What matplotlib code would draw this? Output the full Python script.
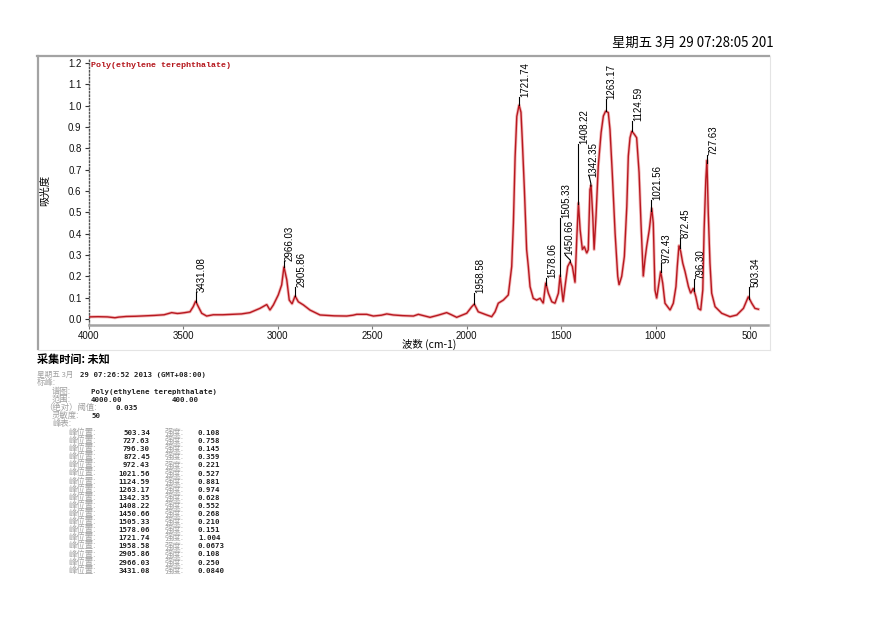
import matplotlib
matplotlib.use("Agg")
import matplotlib.pyplot as plt
import numpy as np
from matplotlib.lines import Line2D

# ---------------- data ----------------
wavenumber = [4000, 3950, 3900, 3860, 3840, 3800, 3750, 3700, 3650, 3600, 3560, 3530, 3516, 3490,
              3463, 3446, 3433, 3419, 3401, 3375, 3340, 3290, 3234, 3190, 3146, 3093, 3057, 3040,
              3022, 2996, 2978, 2966, 2951, 2938, 2923, 2907, 2890, 2863, 2828, 2775, 2700, 2634,
              2600, 2581, 2528, 2493, 2450, 2422, 2387, 2340, 2281, 2255, 2193, 2150, 2105, 2080,
              2052, 1999, 1972, 1959, 1938, 1893, 1867, 1849, 1832, 1805, 1779, 1761, 1752, 1743,
              1734, 1722, 1712, 1705, 1694, 1682, 1673, 1664, 1647, 1629, 1611, 1594, 1581, 1567,
              1549, 1532, 1514, 1505, 1496, 1489, 1479, 1465, 1452, 1440, 1426, 1417, 1408, 1399,
              1387, 1377, 1364, 1356, 1347, 1341, 1332, 1325, 1315, 1303, 1288, 1276, 1264, 1250,
              1241, 1229, 1214, 1200, 1193, 1179, 1165, 1152, 1144, 1135, 1126, 1112, 1100, 1087,
              1077, 1065, 1056, 1047, 1033, 1020, 1012, 1003, 994, 985, 973, 962, 950, 923, 906,
              892, 885, 876, 867, 856, 844, 826, 814, 800, 787, 774, 761, 750, 743, 734, 728, 721,
              712, 703, 685, 650, 606, 570, 535, 509, 491, 474, 456]
absorbance = [0.010, 0.011, 0.010, 0.006, 0.009, 0.012, 0.013, 0.015, 0.017, 0.020, 0.030, 0.026,
              0.027, 0.030, 0.034, 0.058, 0.084, 0.058, 0.027, 0.014, 0.020, 0.020, 0.022, 0.024,
              0.030, 0.050, 0.068, 0.042, 0.066, 0.113, 0.160, 0.245, 0.184, 0.089, 0.071, 0.108,
              0.081, 0.066, 0.042, 0.019, 0.015, 0.014, 0.018, 0.022, 0.022, 0.014, 0.018, 0.024,
              0.019, 0.016, 0.014, 0.022, 0.008, 0.018, 0.030, 0.020, 0.008, 0.027, 0.058, 0.070,
              0.034, 0.019, 0.011, 0.034, 0.074, 0.089, 0.113, 0.246, 0.450, 0.760, 0.950, 1.004,
              0.970, 0.840, 0.610, 0.325, 0.246, 0.152, 0.097, 0.089, 0.097, 0.074, 0.170, 0.121,
              0.081, 0.074, 0.121, 0.205, 0.136, 0.081, 0.152, 0.246, 0.268, 0.246, 0.171, 0.372,
              0.545, 0.419, 0.325, 0.340, 0.309, 0.325, 0.607, 0.628, 0.480, 0.325, 0.480, 0.717,
              0.874, 0.952, 0.975, 0.968, 0.889, 0.686, 0.403, 0.200, 0.160, 0.200, 0.293, 0.528,
              0.764, 0.850, 0.881, 0.866, 0.850, 0.686, 0.450, 0.200, 0.278, 0.340, 0.419, 0.520,
              0.450, 0.136, 0.097, 0.152, 0.223, 0.168, 0.074, 0.042, 0.074, 0.152, 0.246, 0.345,
              0.317, 0.262, 0.223, 0.152, 0.121, 0.144, 0.105, 0.050, 0.042, 0.136, 0.419, 0.654,
              0.745, 0.497, 0.262, 0.121, 0.058, 0.027, 0.011, 0.019, 0.050, 0.105, 0.074, 0.050,
              0.046]

peak_positions = [503.34, 727.63, 796.30, 872.45, 972.43, 1021.56, 1124.59, 1263.17, 1342.35,
                  1408.22, 1450.66, 1505.33, 1578.06, 1721.74, 1958.58, 2905.86, 2966.03, 3431.08]
peak_labels = ["503.34", "727.63", "796.30", "872.45", "972.43", "1021.56", "1124.59", "1263.17",
               "1342.35", "1408.22", "1450.66", "1505.33", "1578.06", "1721.74", "1958.58",
               "2905.86", "2966.03", "3431.08"]
peak_intensity = ["0.108", "0.758", "0.145", "0.359", "0.221", "0.527", "0.881", "0.974", "0.628",
                  "0.552", "0.268", "0.210", "0.151", "1.004", "0.0673", "0.108", "0.250", "0.0840"]
label_tops = [0.152, 0.77, 0.19, 0.38, 0.265, 0.56, 0.928, 1.03, 0.667, 0.82, 0.30, 0.475, 0.193,
              1.04, 0.121, 0.152, 0.27, 0.128]

y_ticks = [0.0, 0.1, 0.2, 0.3, 0.4, 0.5, 0.6, 0.7, 0.8, 0.9, 1.0, 1.1, 1.2]
x_ticks = [4000, 3500, 3000, 2500, 2000, 1500, 1000, 500]

# ---------------- figure ----------------
W, H = 894, 642
fig = plt.figure(figsize=(W / 100, H / 100), dpi=100)
fig.patch.set_facecolor("white")
CJK = ["Noto Sans CJK SC", "DejaVu Sans"]


def fx(px):
    return px / W


def fy(py):
    return 1 - py / H


def ftext(px, py, s, **kw):
    return fig.text(fx(px), fy(py), s, **kw)


# frame
fig.add_artist(Line2D([fx(37), fx(769)], [fy(56), fy(56)], color="#a3a3a3", lw=1.6))
fig.add_artist(Line2D([fx(37.5), fx(37.5)], [fy(55.5), fy(349)], color="#a3a3a3", lw=1.6))
fig.add_artist(Line2D([fx(770), fx(770)], [fy(56), fy(350)], color="#e4e4e4", lw=0.8))
fig.add_artist(Line2D([fx(38), fx(770)], [fy(349.5), fy(349.5)], color="#e4e4e4", lw=0.8))

ax = fig.add_axes([fx(88.5), fy(325), fx(768) - fx(88.5), fy(58) - fy(325)])
ax.set_facecolor("white")
ax.set_xlim(4000, 405)
ax.set_ylim(-0.028, 1.224)
for s in ("top", "right"):
    ax.spines[s].set_visible(False)
ax.spines["left"].set_linestyle((0, (1, 1.5)))
ax.spines["left"].set_color("#555555")
ax.spines["left"].set_linewidth(1.0)
ax.spines["bottom"].set_color("#a3a3a3")
ax.spines["bottom"].set_linewidth(1.8)

ax.set_yticks(y_ticks)
ax.set_yticklabels([f"{v:.1f}" for v in y_ticks])
ax.set_xticks(x_ticks)
ax.set_xticklabels([str(v) for v in x_ticks])
ax.tick_params(axis="y", direction="out", length=3, width=0.8, color="#333333", pad=2,
               labelsize=7, labelcolor="#111111")
ax.tick_params(axis="x", direction="out", length=3, width=0.8, color="#777777", pad=1,
               labelsize=7, labelcolor="#111111")
for lab in ax.get_xticklabels() + ax.get_yticklabels():
    lab.set_fontfamily("Liberation Sans")

ax.plot(wavenumber, absorbance, color="#f2b8b8", lw=2.2, solid_joinstyle="round", zorder=2)
ax.plot(wavenumber, absorbance, color="#b81820", lw=1.0, solid_joinstyle="miter", zorder=3)

# peak labels with leader lines
px_per_wn = (768 - 88.5) / (4000 - 405)
shift_px = {"1450.66": -5.0, "1342.35": -1.5}
text_dx = {"1450.66": 4.0, "1342.35": 3.5}
for pos, lab, top in zip(peak_positions, peak_labels, label_tops):
    ybot = float(np.interp(pos, wavenumber[::-1], absorbance[::-1]))
    dx = shift_px.get(lab, 0.0)
    xtop = pos - dx / px_per_wn
    if dx != 0.0:
        kink = ybot + 0.3 * (top - ybot)
        ax.plot([pos, pos, xtop], [ybot, kink, top], color="black", lw=0.8, zorder=4)
    else:
        ax.plot([pos, pos], [ybot, top], color="black", lw=0.8, zorder=4)
    tdx = text_dx.get(lab, 6.0)
    ax.annotate(lab, xy=(xtop, top), xytext=(tdx * 0.72, 0), textcoords="offset points",
                rotation=90, ha="center", va="bottom", fontsize=7, family="Liberation Sans",
                color="black", zorder=5)

# in-plot title
ax.text(0.004, 0.985, "Poly(ethylene terephthalate)", transform=ax.transAxes,
        ha="left", va="top", fontsize=6.0, family="Liberation Mono", fontweight="bold",
        color="#b4141a")

# axis labels
ftext(45, 190, "吸光度", rotation=90, ha="center", va="center", fontsize=7.5, family=CJK)
ftext(402, 344, "波数 (cm-1)", ha="left", va="center", fontsize=7.5, family=CJK)

# top-right timestamp
ftext(612, 43, "星期五 3月 29 07:28:05 201", ha="left", va="center", fontsize=9.6, family=CJK)

# ---------------- info block ----------------
GRAY = "#a0a0a0"
DARK = "#222222"
BL = 2.3  # baseline offset below row centre (px)


def gray_cjk(px, py, s, size=6):
    ftext(px, py + BL, s, ha="left", va="baseline", fontsize=size, family=CJK, color=GRAY)


def dark_val(px, py, s, ha="left"):
    ftext(px, py + BL, s, ha=ha, va="baseline", fontsize=5.3,
          family="DejaVu Sans Mono", fontweight="bold", color=DARK)


ftext(37, 359, "采集时间: 未知", ha="left", va="center", fontsize=8, family=CJK,
      fontweight="bold")
gray_cjk(37, 375, "星期五 3月", size=5.5)
dark_val(80, 375, "29 07:26:52 2013 (GMT+08:00)")
gray_cjk(37, 383, "标峰:")
gray_cjk(52, 391.5, "谱图:")
dark_val(91, 391.5, "Poly(ethylene terephthalate)")
gray_cjk(52, 399.5, "范围:")
dark_val(91, 399.5, "4000.00")
dark_val(172, 399.5, "400.00")
gray_cjk(44, 407.5, "（绝对）阈值:")
dark_val(115, 407.5, "0.035")
gray_cjk(52, 415.5, "灵敏度:")
dark_val(91, 415.5, "50")
gray_cjk(52, 424, "峰表:")

row_y0, row_step = 432.7, 8.1
for i, (lab, inten) in enumerate(zip(peak_labels, peak_intensity)):
    yy = row_y0 + i * row_step
    gray_cjk(68, yy, "峰位置:")
    dark_val(150, yy, lab, ha="right")
    gray_cjk(165, yy, "强度:")
    dark_val(198, yy, inten)

fig.savefig("out.png", dpi=100, facecolor="white")
